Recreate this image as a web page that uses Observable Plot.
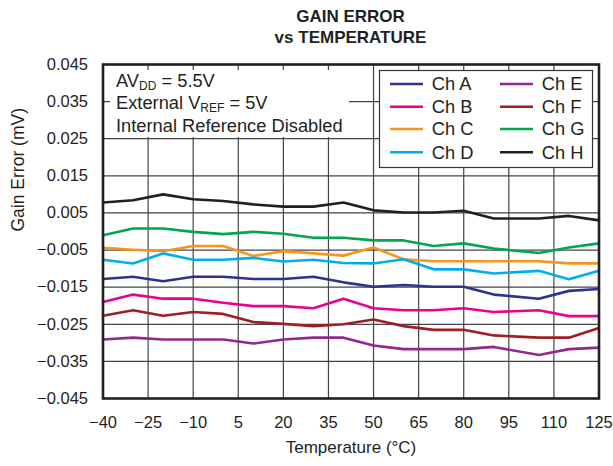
<!DOCTYPE html>
<html><head><meta charset="utf-8">
<script src="https://cdn.jsdelivr.net/npm/d3@7"></script>
<script src="https://cdn.jsdelivr.net/npm/@observablehq/plot@0.6"></script>
<style>
body{margin:0;background:#fff;font-family:"Liberation Sans",Arial,sans-serif;color:#231f20;}
#title{box-sizing:border-box;width:525px;margin-left:88px;height:50px;padding-top:6px;text-align:center;font-weight:bold;font-size:17px;line-height:21px;}
#chart svg{display:block;}
</style></head><body>
<div id="title">GAIN ERROR<br>vs TEMPERATURE</div>
<div id="chart"></div>
<script>
const temps = [-40,-30,-20,-10,0,10,20,30,40,50,60,70,80,90,105,115,125];
const channels = ["Ch A","Ch B","Ch C","Ch D","Ch E","Ch F","Ch G","Ch H"];
const colors = ["#2e3192","#ec008c","#f7941d","#00aeef","#92278f","#9e1f23","#00a651","#231f20"];
const chA = [-0.0128,-0.0122,-0.0134,-0.0122,-0.0122,-0.0128,-0.0128,-0.0122,-0.0137,-0.0149,-0.0144,-0.0149,-0.0149,-0.0170,-0.0181,-0.0160,-0.0155];
const chB = [-0.0190,-0.0170,-0.0181,-0.0181,-0.0192,-0.0201,-0.0201,-0.0207,-0.0181,-0.0207,-0.0212,-0.0212,-0.0207,-0.0217,-0.0212,-0.0228,-0.0228];
const chC = [-0.0044,-0.0049,-0.0053,-0.0039,-0.0039,-0.0066,-0.0053,-0.0059,-0.0065,-0.0043,-0.0075,-0.0080,-0.0080,-0.0080,-0.0080,-0.0086,-0.0086];
const chD = [-0.0076,-0.0086,-0.0059,-0.0076,-0.0076,-0.0071,-0.0081,-0.0076,-0.0085,-0.0086,-0.0075,-0.0102,-0.0102,-0.0113,-0.0106,-0.0129,-0.0106];
const chE = [-0.0291,-0.0286,-0.0291,-0.0291,-0.0291,-0.0302,-0.0291,-0.0286,-0.0286,-0.0307,-0.0317,-0.0317,-0.0317,-0.0311,-0.0333,-0.0317,-0.0313];
const chF = [-0.0227,-0.0212,-0.0227,-0.0217,-0.0222,-0.0244,-0.0249,-0.0255,-0.0250,-0.0237,-0.0255,-0.0265,-0.0265,-0.0280,-0.0286,-0.0286,-0.0260];
const chG = [-0.0010,0.0008,0.0008,-0.0001,-0.0007,-0.0001,-0.0006,-0.0017,-0.0017,-0.0024,-0.0024,-0.0039,-0.0032,-0.0046,-0.0058,-0.0043,-0.0032];
const chH = [0.0078,0.0084,0.0100,0.0087,0.0082,0.0073,0.0067,0.0067,0.0078,0.0057,0.0051,0.0051,0.0056,0.0035,0.0035,0.0042,0.0030];
const xTicks = [-40,-25,-10,5,20,35,50,65,80,95,110,125];
const yTicks = [0.045,0.035,0.025,0.015,0.005,-0.005,-0.015,-0.025,-0.035,-0.045];

const seriesValues = [chA,chB,chC,chD,chE,chF,chG,chH];
const data = channels.flatMap((ch,k) => temps.map((t,i) => ({t, v: seriesValues[k][i], ch})));

const font = "Liberation Sans, Arial, sans-serif";
const plot = Plot.plot({
  width: 613, height: 416,
  marginTop: 14, marginLeft: 102.5, marginRight: 14.5, marginBottom: 68,
  style: {fontFamily: font, fontSize: "16.5px", color: "#231f20", background: "#fff"},
  x: {domain: [-40,125]},
  y: {domain: [-0.045,0.045]},
  color: {domain: channels, range: colors},
  marks: [
    Plot.gridX(xTicks, {stroke: "#444", strokeOpacity: 1, strokeWidth: 1.2}),
    Plot.gridY(yTicks, {stroke: "#444", strokeOpacity: 1, strokeWidth: 1.2}),
    Plot.axisX(xTicks, {tickSize: 0, tickPadding: 18, tickFormat: d3.format("d"), label: null, fontSize: 16.5}),
    Plot.axisY(yTicks, {tickSize: 0, tickPadding: 15, tickFormat: d3.format(".3f"), label: null, fontSize: 16.5}),
    Plot.lineY(data, {x: "t", y: "v", z: "ch", stroke: "ch", strokeWidth: 2.6}),
    Plot.frame({stroke: "#231f20", strokeWidth: 2.6}),
    Plot.text(["Temperature (°C)"], {frameAnchor: "bottom", dy: 54, fontSize: 17, fill: "#231f20"}),
    Plot.text(["Gain Error (mV)"], {frameAnchor: "left", rotate: -90, dx: -85, fontSize: 17.5, fill: "#231f20"})
  ]
});
document.getElementById("chart").appendChild(plot);

// annotation box and legend
const svg = d3.select(plot);
svg.append("rect").attr("x", 110).attr("y", 20).attr("width", 239).attr("height", 67).attr("fill", "#fff");
const ann = svg.append("g").attr("font-family", font).attr("font-size", 18.3).attr("fill", "#231f20").attr("text-anchor", "start");
const l1 = ann.append("text").attr("x", 116).attr("y", 37);
l1.append("tspan").text("AV");
l1.append("tspan").attr("dy", 3).attr("font-size", 12).text("DD");
l1.append("tspan").attr("dy", -3).text(" = 5.5V");
const l2 = ann.append("text").attr("x", 116).attr("y", 59);
l2.append("tspan").text("External V");
l2.append("tspan").attr("dy", 3).attr("font-size", 12).text("REF");
l2.append("tspan").attr("dy", -3).text(" = 5V");
ann.append("text").attr("x", 116).attr("y", 82).text("Internal Reference Disabled");

const leg = svg.append("g").attr("text-anchor", "start");
leg.append("rect").attr("x", 379.5).attr("y", 20.5).attr("width", 213).attr("height", 97)
  .attr("fill", "#fff").attr("stroke", "#333").attr("stroke-width", 1.2);
const rowsY = [34, 56.7, 79, 102.3];
channels.forEach((ch, k) => {
  const col = Math.floor(k / 4), row = k % 4;
  const x0 = col ? 500 : 390;
  leg.append("line").attr("x1", x0).attr("x2", x0 + 33).attr("y1", rowsY[row]).attr("y2", rowsY[row])
    .attr("stroke", colors[k]).attr("stroke-width", 2.6);
  leg.append("text").attr("x", x0 + 41.7).attr("y", rowsY[row]).attr("dy", "0.35em")
    .attr("font-family", font).attr("font-size", 18.3).attr("fill", "#231f20").text(ch);
});
</script>
</body></html>
